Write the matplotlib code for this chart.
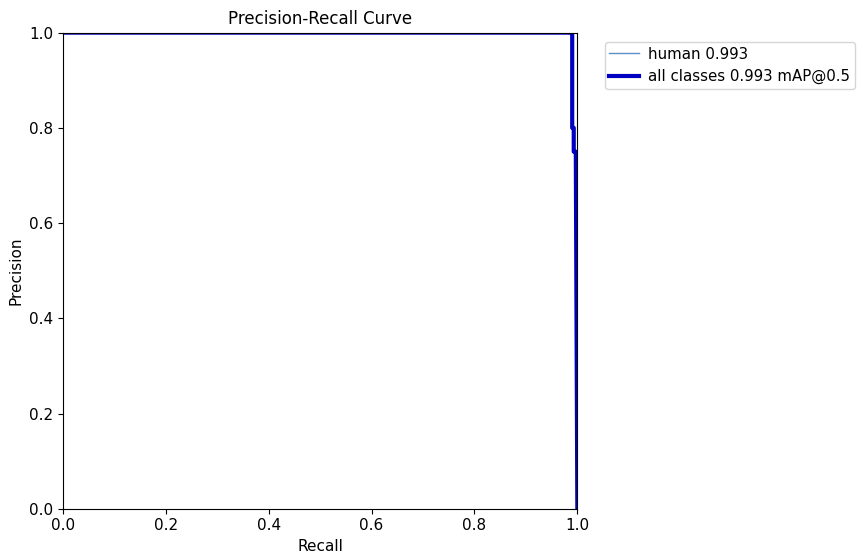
import matplotlib
matplotlib.use("Agg")
import matplotlib.pyplot as plt

# PR curve points
recall = [0.0, 0.988, 0.990, 0.990, 0.993, 0.993, 0.997, 1.0]
precision = [1.0, 1.0, 0.995, 0.80, 0.80, 0.75, 0.75, 0.0]

class_name = "human"
class_ap = 0.993
map50 = 0.993

fig = plt.figure(figsize=(8.63, 5.53), dpi=100)
ax = fig.add_axes([0.073, 0.080, 0.596, 0.861])

ax.plot(recall, precision, linewidth=1, color="#5b8fc9", label=f"{class_name} {class_ap:.3f}")
ax.plot(recall, precision, linewidth=3, color="#0000c0", label=f"all classes {map50:.3f} mAP@0.5")

ax.set_xlim(0, 1)
ax.set_ylim(0, 1)
ax.set_xlabel("Recall", fontsize=11)
ax.set_ylabel("Precision", fontsize=11)
ax.set_title("Precision-Recall Curve", fontsize=12, pad=6)
ax.tick_params(labelsize=11)

# legend sits to the right of the axes
fig.legend(*ax.get_legend_handles_labels(), loc="upper left",
           bbox_to_anchor=(0.701, 0.924), fontsize=10.8, handlelength=2.0,
           handletextpad=0.6, borderpad=0.3, borderaxespad=0)

fig.savefig("out.png", dpi=100)
